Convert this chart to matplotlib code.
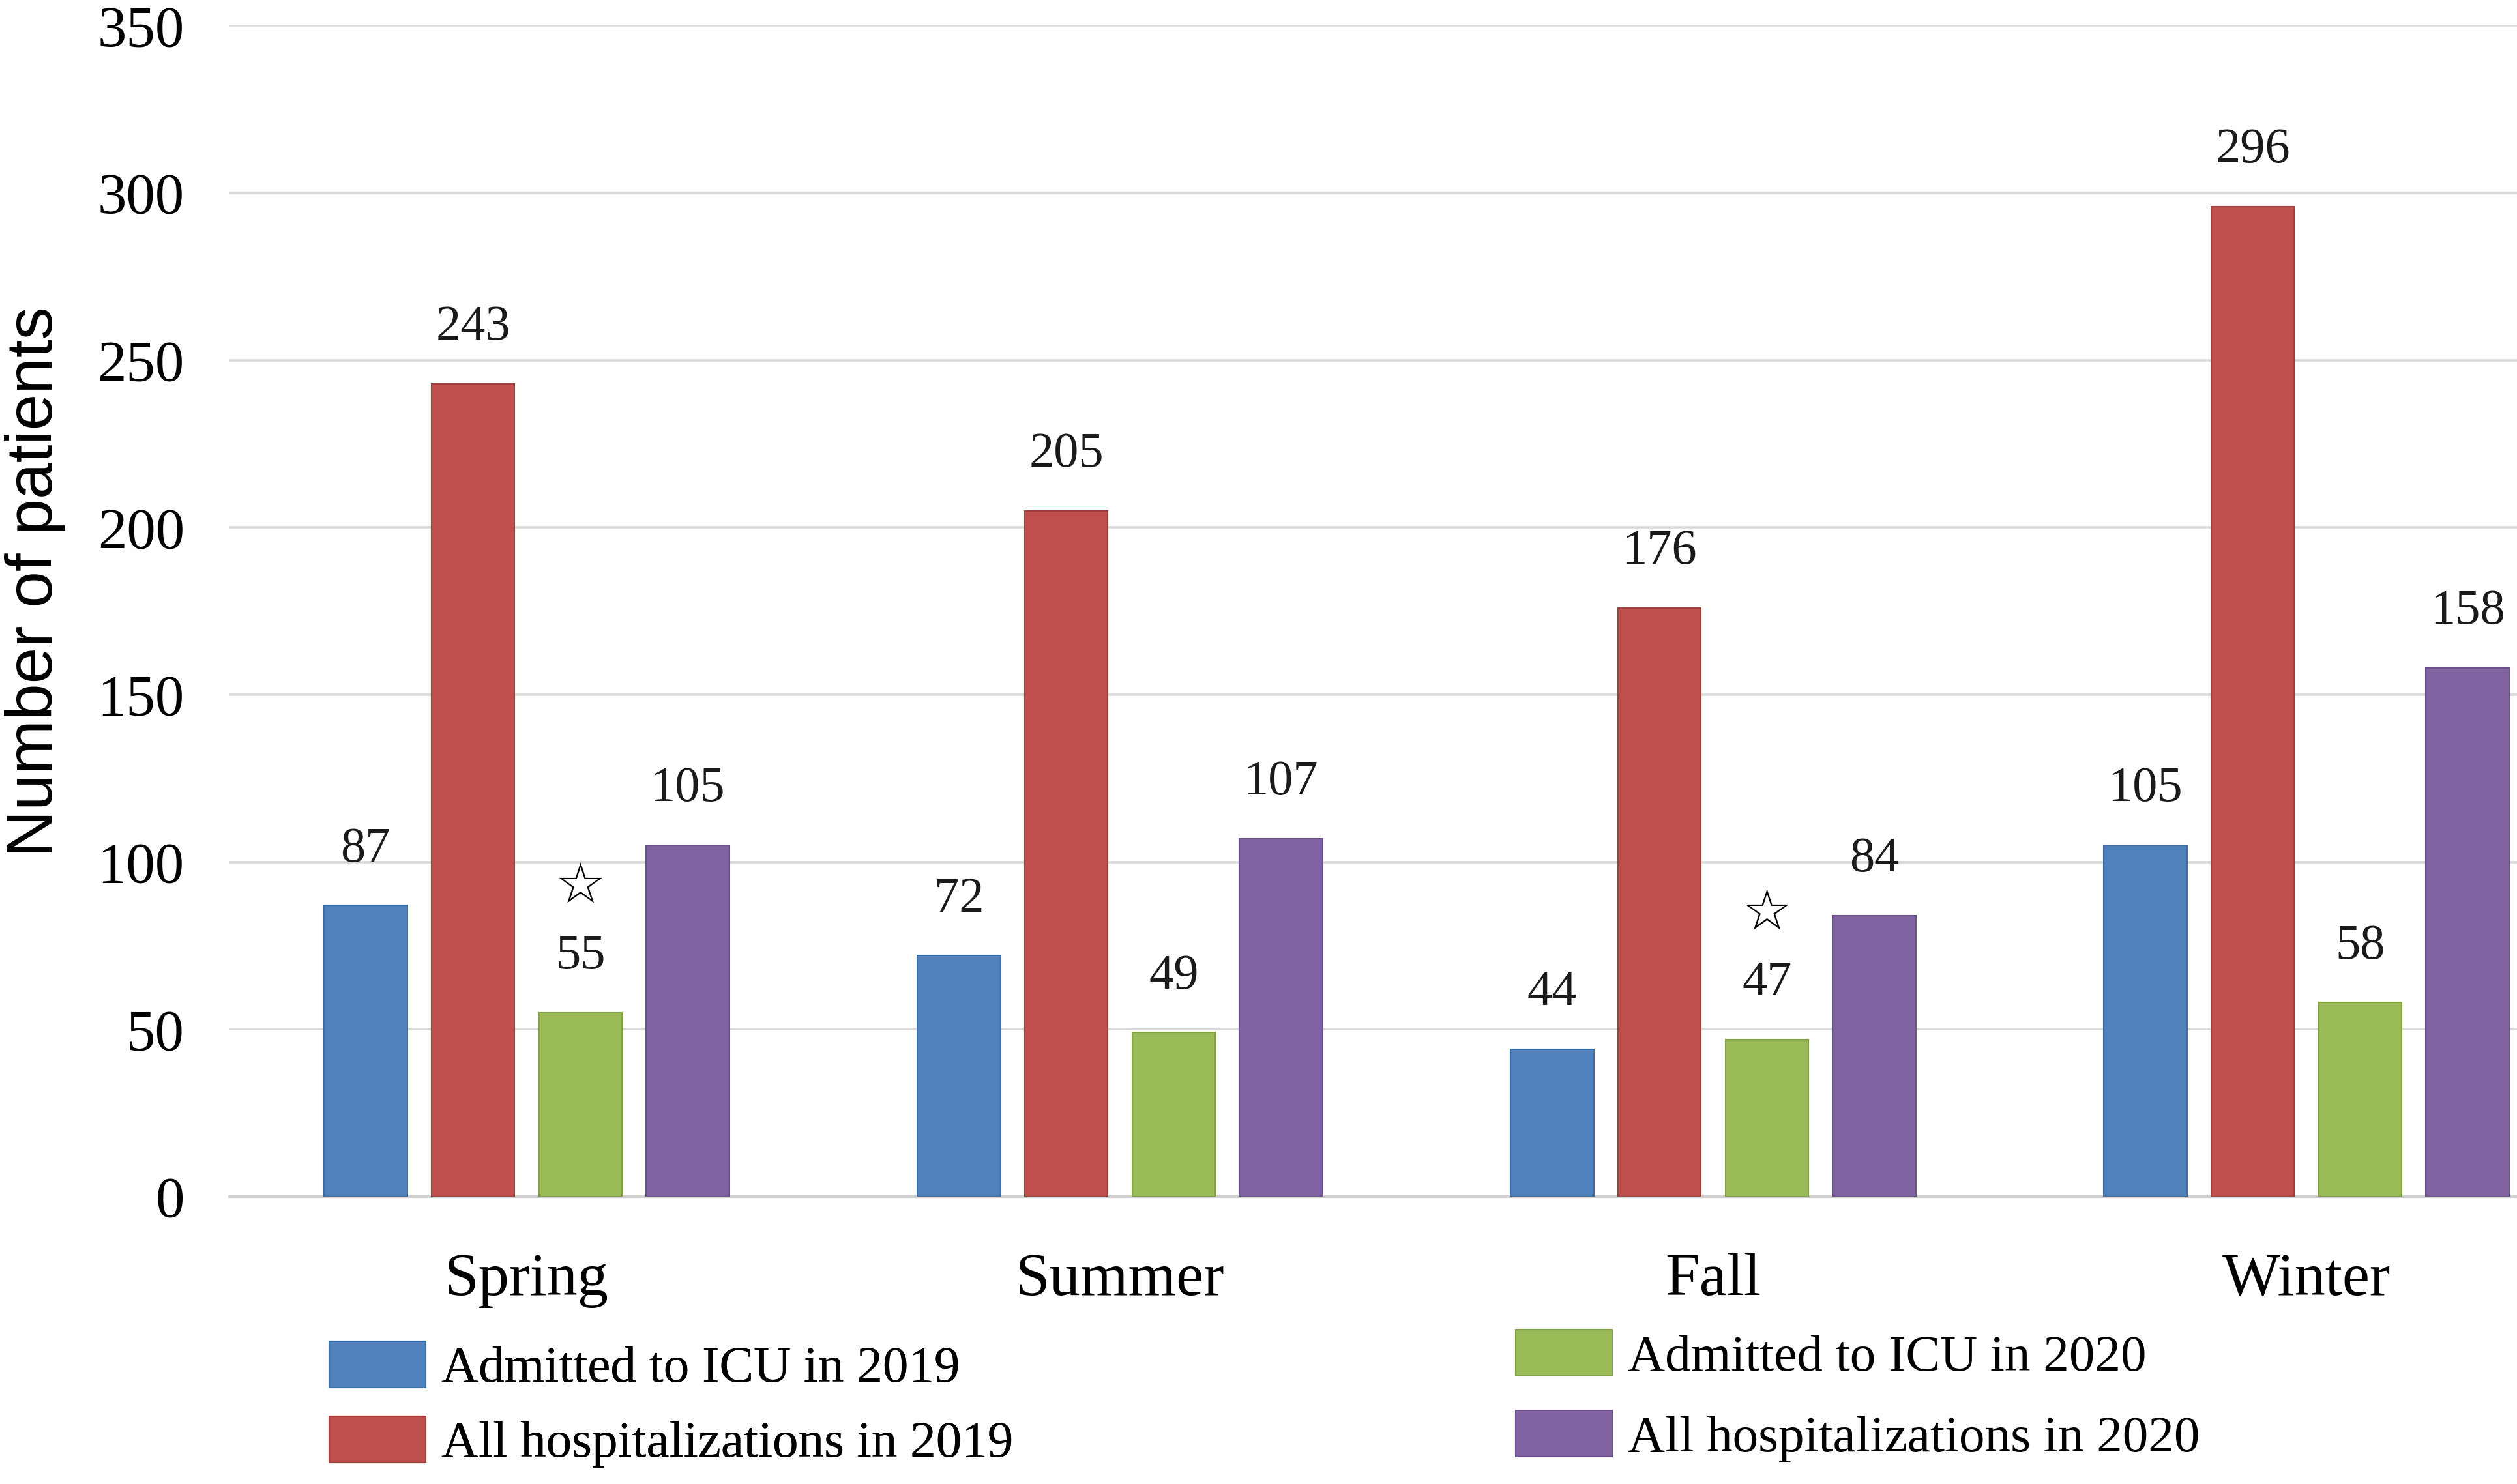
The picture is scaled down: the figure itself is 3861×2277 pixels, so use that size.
import numpy as np
import matplotlib
matplotlib.use("Agg")
import matplotlib.pyplot as plt
from matplotlib.patches import Patch

# Data
seasons = ["Spring", "Summer", "Fall", "Winter"]
icu_2019 = [87, 72, 44, 105]
all_2019 = [243, 205, 176, 296]
icu_2020 = [55, 49, 47, 58]
all_2020 = [105, 107, 84, 158]
starred_icu_2020 = ["Spring", "Fall"]  # significance marks

series_names = ["Admitted to ICU in 2019", "All hospitalizations in 2019",
                "Admitted to ICU in 2020", "All hospitalizations in 2020"]
series_values = [icu_2019, all_2019, icu_2020, all_2020]
colors = ["#4F81BD", "#C0504D", "#9BBB59", "#8064A2"]
edges = ["#3F6C9F", "#A03E3B", "#81A045", "#6A5088"]
yticks = [0, 50, 100, 150, 200, 250, 300, 350]

plt.rcParams['font.family'] = ['Liberation Serif', 'DejaVu Serif']

fig = plt.figure(figsize=(38.62, 22.77), dpi=100)
ax = fig.add_axes([0.0912, 0.1937, 0.9088, 0.789])

x = np.arange(len(seasons))
width = 0.14
step = 0.181
offsets = [-1.5 * step, -0.5 * step, 0.5 * step, 1.5 * step]

for vals, off, col, ec in zip(series_values, offsets, colors, edges):
    bars = ax.bar(x + off, vals, width, color=col, edgecolor=ec, linewidth=1.5, zorder=3)
    for b, v in zip(bars, vals):
        ax.annotate(str(v), (b.get_x() + b.get_width() / 2, v), xytext=(0, 62),
                    textcoords="offset points", ha="center", va="center",
                    fontsize=55, color="#1a1a1a")

# stars above the 2020 ICU bars
for s in starred_icu_2020:
    i = seasons.index(s)
    ax.annotate("\u2606", (x[i] + offsets[2], icu_2020[i]), xytext=(0, 138),
                textcoords="offset points", ha="center", va="center",
                fontsize=62, family="DejaVu Sans", color="black")

ax.set_ylim(0, 350)
ax.set_xlim(-0.5007, 3.356)
ax.set_yticks(yticks)
ax.set_xticks(x)
ax.set_xticklabels(seasons, fontsize=68)
ax.tick_params(axis="x", length=0, pad=62)
ax.tick_params(axis="y", length=0, pad=50, labelsize=64)
ax.yaxis.grid(True, color="#D9D9D9", linewidth=2.6, zorder=0)
ax.set_axisbelow(True)
for side in ["left", "right", "top"]:
    ax.spines[side].set_visible(False)
ax.spines["bottom"].set_color("#D0D0D0")
ax.spines["bottom"].set_linewidth(3)

fig.text(0.014, 0.608, "Number of patients", rotation=90, ha="center", va="center",
         fontsize=72, family="Liberation Sans")

handles = [Patch(facecolor=c, edgecolor=e, linewidth=1.5) for c, e in zip(colors, edges)]
leg1 = fig.legend(handles[:2], series_names[:2], loc="upper left",
                  bbox_to_anchor=(0.1307, 0.0963), frameon=False, fontsize=57,
                  handlelength=1.87, handleheight=1.0, labelspacing=0.45,
                  handletextpad=0.3, borderpad=0, borderaxespad=0)
leg2 = fig.legend(handles[2:], series_names[2:], loc="upper left",
                  bbox_to_anchor=(0.602, 0.1039), frameon=False, fontsize=57,
                  handlelength=1.87, handleheight=1.0, labelspacing=0.56,
                  handletextpad=0.3, borderpad=0, borderaxespad=0)
fig.add_artist(leg1)

fig.savefig("out.png", dpi=100, facecolor="white")
